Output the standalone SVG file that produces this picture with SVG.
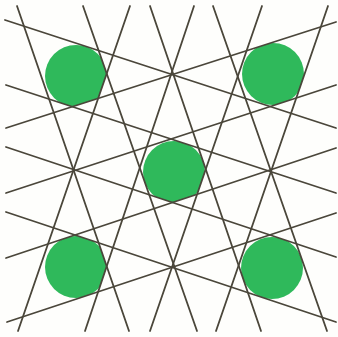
<svg xmlns="http://www.w3.org/2000/svg" width="338" height="337" viewBox="0 0 338 337">
<style>
.ln{stroke:#4a463a;stroke-width:1.8;stroke-linecap:round;fill:none}
.dot{fill:#2fb95b}
</style>
<defs>
<clipPath id="s12"><polygon points="17,6 83,6 197,331 129,331"/></clipPath>
<clipPath id="s23"><polygon points="83,6 150,6 261,331 197,331"/></clipPath>
<clipPath id="s34"><polygon points="150,6 213,6 327,331 261,331"/></clipPath>
<clipPath id="sL1"><polygon points="17,6 129,331 -100,331 -100,6"/></clipPath>
<clipPath id="sR4"><polygon points="213,6 327,331 440,331 440,6"/></clipPath>
<clipPath id="t12"><polygon points="130,6 194,6 85,331 18,331"/></clipPath>
<clipPath id="t23"><polygon points="194,6 262,6 150,331 85,331"/></clipPath>
<clipPath id="t34"><polygon points="262,6 328,6 216,331 150,331"/></clipPath>
<clipPath id="tL1"><polygon points="130,6 18,331 -100,331 -100,6"/></clipPath>
<clipPath id="tR4"><polygon points="328,6 216,331 440,331 440,6"/></clipPath>
<clipPath id="d12"><polygon points="5,20 336,128 336,193 6,85"/></clipPath>
<clipPath id="d23"><polygon points="6,85 336,193 336,257 6,147"/></clipPath>
<clipPath id="d34"><polygon points="6,147 336,257 336,322 6,212"/></clipPath>
<clipPath id="dA1"><polygon points="5,20 336,128 336,-100 5,-100"/></clipPath>
<clipPath id="dB4"><polygon points="6,212 336,322 336,440 6,440"/></clipPath>
<clipPath id="u12"><polygon points="6,128 336,22 336,85 6,193"/></clipPath>
<clipPath id="u23"><polygon points="6,193 336,85 336,148 6,258"/></clipPath>
<clipPath id="u34"><polygon points="6,258 336,148 336,213 7,322"/></clipPath>
<clipPath id="uA1"><polygon points="6,128 336,22 336,-100 6,-100"/></clipPath>
<clipPath id="uB4"><polygon points="7,322 336,213 336,440 7,440"/></clipPath>
</defs>
<rect width="338" height="337" fill="#fefefc"/>
<g id="circle-top-left"><g clip-path="url(#s12)"><g clip-path="url(#tL1)"><g clip-path="url(#d12)"><g clip-path="url(#uA1)">
<circle class="dot" cx="76" cy="76" r="31"/></g></g></g></g></g>
<g id="circle-top-right"><g clip-path="url(#sR4)"><g clip-path="url(#t34)"><g clip-path="url(#dA1)"><g clip-path="url(#u12)">
<circle class="dot" cx="273" cy="74" r="31"/></g></g></g></g></g>
<g id="circle-center"><g clip-path="url(#s23)"><g clip-path="url(#t23)"><g clip-path="url(#d23)"><g clip-path="url(#u23)">
<circle class="dot" cx="174" cy="172" r="31"/></g></g></g></g></g>
<g id="circle-bottom-left"><g clip-path="url(#sL1)"><g clip-path="url(#t12)"><g clip-path="url(#dB4)"><g clip-path="url(#u34)">
<circle class="dot" cx="76" cy="267" r="31"/></g></g></g></g></g>
<g id="circle-bottom-right"><g clip-path="url(#s34)"><g clip-path="url(#tR4)"><g clip-path="url(#d34)"><g clip-path="url(#uB4)">
<circle class="dot" cx="272" cy="268" r="31"/></g></g></g></g></g>
<g id="lines">
<line class="ln" x1="17" y1="6" x2="129" y2="331"/>
<line class="ln" x1="83" y1="6" x2="197" y2="331"/>
<line class="ln" x1="150" y1="6" x2="261" y2="331"/>
<line class="ln" x1="213" y1="6" x2="327" y2="331"/>
<line class="ln" x1="130" y1="6" x2="18" y2="331"/>
<line class="ln" x1="194" y1="6" x2="85" y2="331"/>
<line class="ln" x1="262" y1="6" x2="150" y2="331"/>
<line class="ln" x1="328" y1="6" x2="216" y2="331"/>
<line class="ln" x1="5" y1="20" x2="336" y2="128"/>
<line class="ln" x1="6" y1="85" x2="336" y2="193"/>
<line class="ln" x1="6" y1="147" x2="336" y2="257"/>
<line class="ln" x1="6" y1="212" x2="336" y2="322"/>
<line class="ln" x1="6" y1="128" x2="336" y2="22"/>
<line class="ln" x1="6" y1="193" x2="336" y2="85"/>
<line class="ln" x1="6" y1="258" x2="336" y2="148"/>
<line class="ln" x1="7" y1="322" x2="336" y2="213"/>
</g>
</svg>
